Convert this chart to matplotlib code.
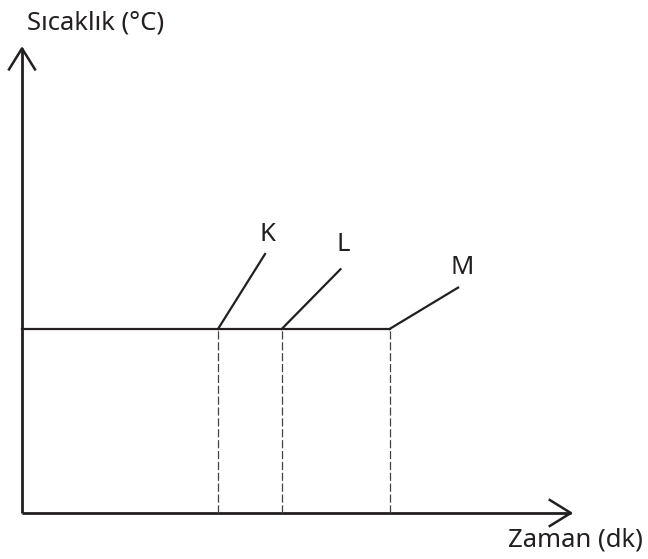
import matplotlib
matplotlib.use("Agg")
import matplotlib.pyplot as plt

# zaman (dk) ve sicaklik (C) - keyfi birimler
plateau_temp = 4.0
start_times = [4.0, 5.3, 7.5]          # K, L, M erime bitisi
end_times = [4.96, 6.5, 8.9]
end_temps = [5.63, 5.3, 4.9]
labels = ["K", "L", "M"]
label_pos = [(5.0, 6.05), (6.55, 5.83), (8.98, 5.33)]
x_max = 11.2
y_max = 10.1

plt.rcParams['font.family'] = ['Noto Sans', 'DejaVu Sans']

fig = plt.figure(figsize=(6.48, 5.59), dpi=100)
ax = fig.add_axes([0, 0, 1, 1])
px_x, px_y = 49.0, 46.0
ax.set_xlim(-22 / px_x, (648 - 22) / px_x)
ax.set_ylim(-(559 - 513) / px_y, 513 / px_y)
ax.axis("off")

# eksenler
ax.plot([0, x_max], [0, 0], color="#231f20", lw=2, solid_capstyle="butt")
ax.plot([0, 0], [0, y_max], color="#231f20", lw=2, solid_capstyle="butt")
# ok uclari
hl, hw = 21, 13
ax.plot([x_max - hl / px_x, x_max, x_max - hl / px_x],
        [hw / px_y, 0, -hw / px_y], color="#231f20", lw=1.8)
ax.plot([-hw / px_x, 0, hw / px_x],
        [y_max - hl / px_y, y_max, y_max - hl / px_y], color="#231f20", lw=1.8)

# sabit sicaklik
ax.plot([0, start_times[-1]], [plateau_temp, plateau_temp], color="#231f20", lw=1.6)

for t0, t1, T1, lab, (lx, ly) in zip(start_times, end_times, end_temps, labels, label_pos):
    ax.plot([t0, t1], [plateau_temp, T1], color="#231f20", lw=1.6)
    ax.plot([t0, t0], [0, plateau_temp], color="#444444", lw=0.9,
            linestyle=(0, (6.5, 2.2)))
    ax.text(lx, ly, lab, fontsize=18.5, ha="center", va="center", color="#231f20")

ax.text(27 / px_x - 22 / px_x, (513 - 23) / px_y, "Sıcaklık (°C)", fontsize=18.5,
        ha="left", va="center", color="#231f20")
ax.text((643 - 22) / px_x, (513 - 540) / px_y, "Zaman (dk)", fontsize=18.5,
        ha="right", va="center", color="#231f20")

fig.savefig("out.png", dpi=100)
